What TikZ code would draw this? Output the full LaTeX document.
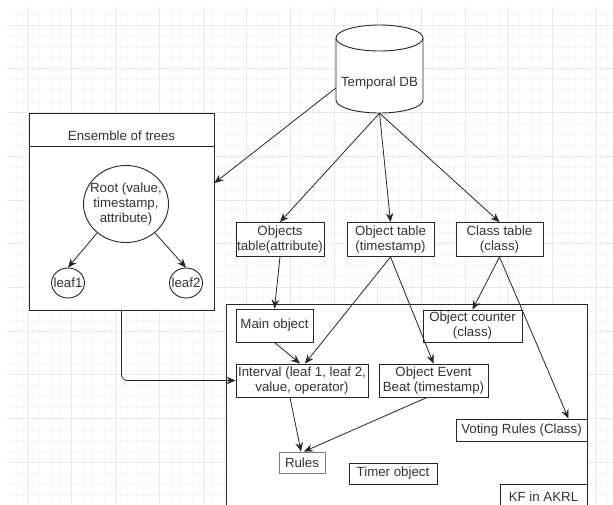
\documentclass[tikz,border=0pt]{standalone}
\usepackage{fontspec}
\setmainfont{Liberation Sans}
\usetikzlibrary{arrows.meta,shapes.geometric}

\tikzset{
  txt/.style={align=center, inner sep=0pt, text=black!80, font=\fontsize{13.3}{15}\selectfont},
  box/.style={txt, draw=black!85, fill=white, line width=0.9pt},
  cont/.style={draw=black!85, fill=white, line width=0.9pt, inner sep=0pt},
  tree/.style={ellipse, draw=black!85, fill=white, line width=0.9pt, inner sep=0pt},
  arrow/.style={draw=black!85, line width=0.8pt, -{Stealth[length=9pt,width=7.5pt,inset=3pt]}},
  minorgrid/.style={black!4, line width=0.5pt},
  majorgrid/.style={black!9, line width=0.6pt}
}

\begin{document}
\begin{tikzpicture}[x=1pt, y=-1pt]
\useasboundingbox (0,0) rectangle (613,504);
\clip (0,0) rectangle (613,504);
% background grid
\draw[minorgrid, xshift=6.15pt, yshift=-3.15pt, step=10.925pt] (0.85,500.85) grid (606.85,3.85);
\draw[majorgrid, xshift=28pt, yshift=-25pt, step=43.7pt] (-21,479) grid (585,-18);

% ensemble of trees
\node[cont, minimum width=185pt, minimum height=197pt] (ensemble) at (121.5,211.5) {};
\coordinate (hdr) at (0,146);
\draw[black!85, line width=0.9pt] (ensemble.west |- hdr) -- (ensemble.east |- hdr);
\node[txt] (enstitle) at (121.5,136) {Ensemble of trees};
\node[tree, minimum width=85pt, minimum height=77pt,
      label={[txt]center:Root (value,\\timestamp,\\attribute)}] (root) at (126,204) {};
\node[tree, minimum width=33pt, minimum height=30pt, label={[txt]center:leaf1}] (leafa) at (68,283) {};
\node[tree, minimum width=33pt, minimum height=30pt, label={[txt]center:leaf2}] (leafb) at (186,283) {};

% temporal db
\filldraw[fill=white, draw=black!85, line width=0.9pt] (336,38) -- (336,100)
  arc[start angle=180, end angle=0, x radius=43.5, y radius=13] -- (423,38);
\filldraw[fill=white, draw=black!85, line width=0.9pt] (379.5,38) ellipse [x radius=43.5, y radius=13];
\node[minimum width=87pt, minimum height=88pt, inner sep=0pt] (db) at (379.5,69) {};
\node[txt] (dbtxt) at (379.5,83) {Temporal DB};

% tables
\node[box, minimum width=88pt, minimum height=34pt] (objtab) at (280,239.5) {Objects\\table(attribute)};
\node[box, minimum width=87pt, minimum height=34pt] (otab) at (390.5,239.5) {Object table\\(timestamp)};
\node[box, minimum width=87pt, minimum height=34pt] (ctab) at (499.5,239.5) {Class table\\(class)};

% KF in AKRL
\node[cont, minimum width=361pt, minimum height=216pt] (kf) at (406.5,412) {};
\node[box, minimum width=77pt, minimum height=33pt] (mainobj) at (274.5,325.5) {Main object};
\node[box, minimum width=99pt, minimum height=32pt] (counter) at (472.5,326) {Object counter\\(class)};
\node[box, minimum width=132pt, minimum height=33pt] (interval) at (302,380.5) {Interval (leaf 1, leaf 2,\\value, operator)};
\node[box, minimum width=109pt, minimum height=33pt] (beat) at (433.5,380.5) {Object Event\\Beat (timestamp)};
\node[box, minimum width=131pt, minimum height=22pt] (voting) at (521.5,430) {Voting Rules (Class)};
\node[box, draw=black!50, minimum width=46pt, minimum height=21pt] (rules) at (302,462.5) {Rules};
\node[box, minimum width=88pt, minimum height=21pt] (timer) at (393,473.5) {Timer object};
\node[box, minimum width=87pt, minimum height=26pt] (kflabel) at (543.5,497) {KF in AKRL};

% connectors
\draw[arrow] ([yshift=-19pt]db.west) -- ([yshift=28.5pt]ensemble.east);
\draw[arrow] (db.south) -- (objtab.north);
\draw[arrow] (db.south) -- (otab.north);
\draw[arrow] (db.south) -- (ctab.north);
\draw[arrow] (root.225) -- (leafa.north);
\draw[arrow] (root.315) -- (leafb.north);
\draw[arrow, rounded corners=6pt] (ensemble.south) |- (interval.west);
\draw[arrow] (objtab.south) -- (mainobj.north);
\draw[arrow] (mainobj.south) -- ([xshift=-2pt]interval.north);
\draw[arrow] (otab.south) -- ([xshift=3pt]interval.north);
\draw[arrow] (otab.south) -- (beat.north);
\draw[arrow] (ctab.south) -- (counter.north);
\draw[arrow] (ctab.south) -- ([xshift=-19pt]voting.north east);
\draw[arrow] ([xshift=-12pt]interval.south) -- ([xshift=-1pt]rules.north);
\draw[arrow] ([xshift=-6.5pt]beat.south) -- ([xshift=2pt]rules.north);
\end{tikzpicture}
\end{document}
